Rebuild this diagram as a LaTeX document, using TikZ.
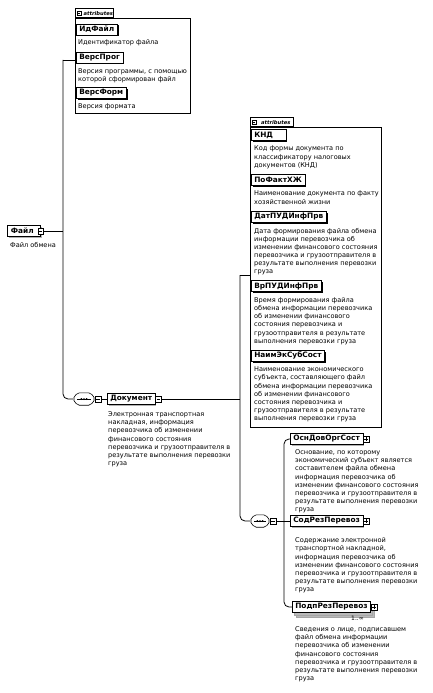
\documentclass[tikz,border=0pt]{standalone}
\usepackage{fontspec}
\setmainfont{DejaVu Sans}
\usepackage{tikz}
\usetikzlibrary{positioning, shadows}

\tikzset{
  link/.style={line width=0.8pt, black},
  grp/.style={draw, line width=0.6pt, anchor=north west, inner sep=0pt},
  elembase/.style={draw=black, line width=0.6pt, fill=white, anchor=west,
    inner xsep=3bp, inner ysep=0pt, minimum height=11bp,
    font=\bfseries\fontsize{7.4}{8}\selectfont},
  elem/.style={elembase, drop shadow={shadow xshift=1.3bp, shadow yshift=-1.3bp, fill=gray!60, opacity=1}},
  attrbox/.style={elembase, drop shadow={shadow xshift=1.3bp, shadow yshift=-1.3bp, fill=black, opacity=1}},
  elemmult/.style={elembase, double copy shadow={shadow xshift=2bp, shadow yshift=-2.5bp, fill=gray!55, draw=gray!70}},
  desc/.style={anchor=north west, align=left, inner sep=0pt,
    font=\fontsize{6.6}{8.2}\selectfont},
  tog/.style={draw, fill=white, line width=0.4pt, minimum size=5.5bp, inner sep=0pt, anchor=west,
    path picture={\draw[line width=0.4pt] ([xshift=1bp]path picture bounding box.west)
      -- ([xshift=-1bp]path picture bounding box.east);}},
  togplus/.style={tog,
    path picture={\draw[line width=0.4pt] ([xshift=1bp]path picture bounding box.west)
      -- ([xshift=-1bp]path picture bounding box.east)
      ([yshift=-1bp]path picture bounding box.north) -- ([yshift=1bp]path picture bounding box.south);}},
  tabbox/.style={draw, fill=white, line width=0.6pt, anchor=south west, inner sep=0pt,
    minimum height=9bp, text depth=0pt, align=left,
    font=\bfseries\itshape\fontsize{5.2}{6}\selectfont},
  seq/.style={minimum width=22bp, minimum height=12bp, inner sep=0pt},
  mult/.style={inner sep=0pt, anchor=north west, font=\fontsize{6}{7}\selectfont},
}

% outline of a sequence compositor round a node
\newcommand{\seqshape}[1]{%
  \draw[line width=0.6pt, rounded corners=2bp, fill=white]
    (#1.west) -- ([xshift=4.5bp]#1.north west) -- ([xshift=-4.5bp]#1.north east)
    -- (#1.east) -- ([xshift=-4.5bp]#1.south east) -- ([xshift=4.5bp]#1.south west) -- cycle;
  \draw[line width=0.7pt] ([xshift=4bp]#1.west) -- ([xshift=-4bp]#1.east);
  \foreach \dx in {-2.6,0,2.6} \fill ([xshift=\dx bp]#1.center) circle (1bp);
}

\begin{document}
\begin{tikzpicture}[x=1bp, y=-1bp]
  \useasboundingbox (0,0) rectangle (433,693);

  % root element
  \node[elem, minimum width=33bp, align=left] (file) at (7,231) {Файл\hspace*{3bp}};
  \node[tog, xshift=-3bp] (fileT) at (file.east) {};
  \node[desc] (fileD) at (10,242) {Файл обмена};

  % attributes of the root
  \node[grp, minimum width=115bp, minimum height=95bp] (attrsA) at (75,18) {};
  \node[tabbox, minimum width=38bp] (tabA) at (75,18) {\hspace*{8bp}attributes};
  \node[tog, minimum size=4.5bp] (tabAT) at ([xshift=1.5bp]tabA.west) {};
  \node[attrbox] (idfile) at (76,29.5) {ИдФайл};
  \node[desc] (idfileD) at (78,39.5) {Идентификатор файла};
  \node[attrbox] (versprog) at (76,57.5) {ВерсПрог};
  \node[desc] (versprogD) at (78,68.5) {Версия программы, с помощью\\которой сформирован файл};
  \node[attrbox] (versform) at (76,93) {ВерсФорм};
  \node[desc] (versformD) at (78,103.5) {Версия формата};

  \coordinate (trunkA) at (63,60);
  \draw[link] (attrsA.west |- trunkA) -- (trunkA);
  \draw[link] (fileT.east) -- (fileT.east -| trunkA);

  % sequence -> Документ
  \node[seq] (seqA) at (84,399) {};
  \draw[link, rounded corners=5bp] (trunkA) |- (seqA.west);
  \seqshape{seqA}
  \node[tog] (seqAT) at (seqA.east) {};
  \node[elem] (doc) at (107,399) {Документ};
  \node[tog] (docT) at (doc.east) {};
  \draw[link] (seqAT.east) -- (doc.west);
  \node[desc] (docD) at (108,411.5) {Электронная транспортная\\накладная, информация\\перевозчика об изменении\\финансового состояния\\перевозчика и грузоотправителя в\\результате выполнения перевозки\\груза};

  % attributes of Документ
  \node[grp, minimum width=131bp, minimum height=300bp] (attrsB) at (250,127) {};
  \node[tabbox, minimum width=43bp] (tabB) at (250,127) {\hspace*{8bp}attributes};
  \node[tog, minimum size=4.5bp] (tabBT) at ([xshift=1.5bp]tabB.west) {};
  \node[attrbox] (knd) at (251,135) {КНД\hspace*{10bp}};
  \node[desc] (kndD) at (254,146) {Код формы документа по\\классификатору налоговых\\документов (КНД)};
  \node[attrbox] (pofakt) at (251,180) {ПоФактХЖ};
  \node[desc] (pofaktD) at (254,191) {Наименование документа по факту\\хозяйственной жизни};
  \node[attrbox] (datpud) at (251,216.7) {ДатПУДИнфПрв};
  \node[desc] (datpudD) at (254,227.7) {Дата формирования файла обмена\\информации перевозчика об\\изменении финансового состояния\\перевозчика и грузоотправителя в\\результате выполнения перевозки\\груза};
  \node[attrbox] (vrpud) at (251,286.2) {ВрПУДИнфПрв};
  \node[desc] (vrpudD) at (254,297.2) {Время формирования файла\\обмена информации перевозчика\\об изменении финансового\\состояния перевозчика и\\грузоотправителя в результате\\выполнения перевозки груза};
  \node[attrbox] (naimek) at (251,355.7) {НаимЭкСубСост};
  \node[desc] (naimekD) at (254,366.7) {Наименование экономического\\субъекта, составляющего файл\\обмена информации перевозчика\\об изменении финансового\\состояния перевозчика и\\грузоотправителя в результате\\выполнения перевозки груза};

  \coordinate (trunkB) at (240,275);
  \draw[link] (attrsB.west |- trunkB) -- (trunkB);
  \draw[link] (docT.east) -- (docT.east -| trunkB);

  % sequence -> children of Документ
  \node[seq, minimum width=20bp] (seqB) at (260,521) {};
  \draw[link, rounded corners=5bp] (trunkB) |- (seqB.west);
  \seqshape{seqB}
  \node[tog] (seqBT) at (seqB.east) {};

  \node[elem] (osn) at (290,439) {ОснДовОргСост};
  \node[togplus] (osnT) at (osn.east) {};
  \node[desc] (osnD) at (295,449.5) {Основание, по которому\\экономический субъект является\\составителем файла обмена\\информация перевозчика об\\изменении финансового состояния\\перевозчика и грузоотправителя в\\результате выполнения перевозки\\груза};

  \node[elem] (sod) at (290,521) {СодРезПеревоз};
  \node[togplus] (sodT) at (sod.east) {};
  \node[desc] (sodD) at (295,537.5) {Содержание электронной\\транспортной накладной,\\информация перевозчика об\\изменении финансового состояния\\перевозчика и грузоотправителя в\\результате выполнения перевозки\\груза};

  \node[elemmult] (podp) at (292,607) {ПодпРезПеревоз};
  \node[togplus] (podpT) at (podp.east) {};
  \node[mult] (podpM) at (351,616) {1..∞};
  \node[desc] (podpD) at (295,626.5) {Сведения о лице, подписавшем\\файл обмена информации\\перевозчика об изменении\\финансового состояния\\перевозчика и грузоотправителя в\\результате выполнения перевозки\\груза};

  \coordinate (trunkC) at (284,521);
  \draw[link] (seqBT.east) -- (sod.west);
  \draw[link, rounded corners=5bp] (osn.west) -| (trunkC) |- (podp.west);

\end{tikzpicture}
\end{document}
